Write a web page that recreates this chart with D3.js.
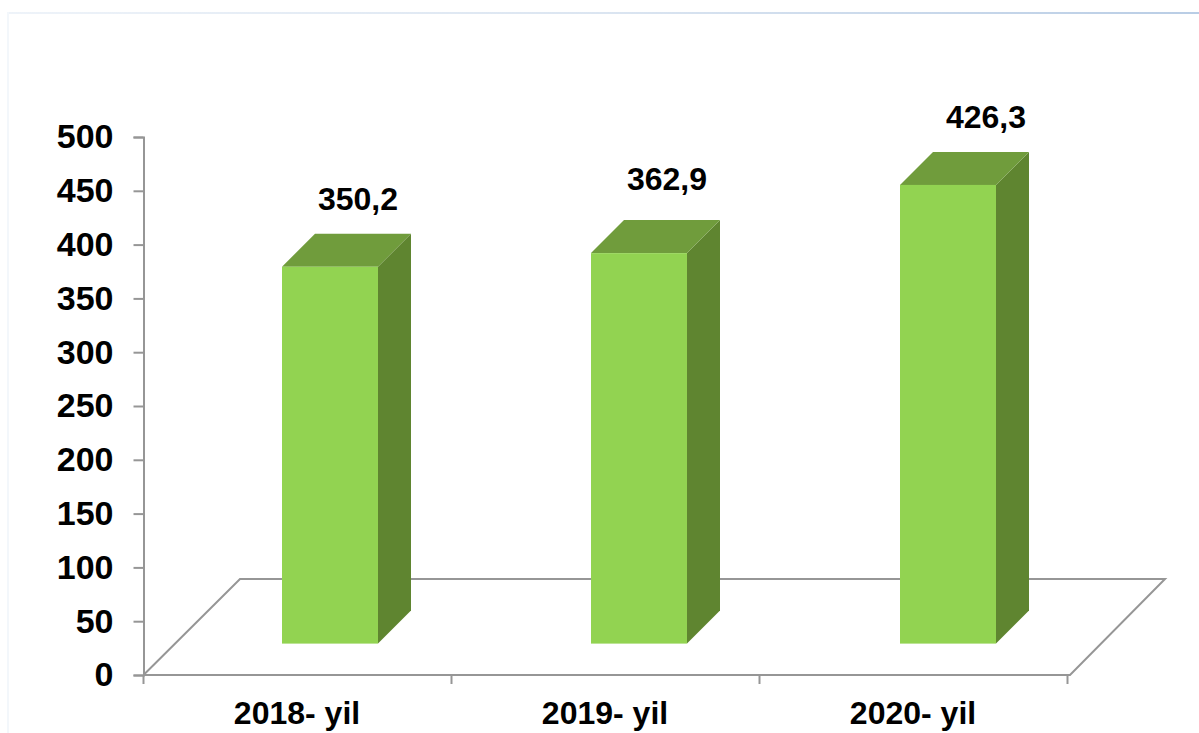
<!DOCTYPE html>
<html><head><meta charset="utf-8">
<script src="https://cdnjs.cloudflare.com/ajax/libs/d3/7.8.5/d3.min.js"></script>
<style>html,body{margin:0;padding:0;background:#fff;overflow:hidden}svg{display:block}text{font-family:"Liberation Sans",Arial,sans-serif;font-weight:700;fill:#000}</style>
</head><body><svg id="c" width="1199" height="733"></svg>
<script>
const categories=["2018- yil","2019- yil","2020- yil"];
const values=[350.2,362.9,426.3];
const valueLabels=["350,2","362,9","426,3"];
const yTicks=[0,50,100,150,200,250,300,350,400,450,500];
const W=1199,H=733;
const svg=d3.select("#c");
const y=d3.scaleLinear().domain([0,500]).range([675,137]);
const x=d3.scaleBand().domain(categories).range([143.5,1067.5]);
const xBar=d3.scaleBand().domain(categories).range([143.5,1070.5]);
const barW=96,barDepth=33;
const baseY=643.6,frontLeft=d=>xBar(d)+138.5;
const barTop=v=>y(v)-(675-baseY);
const labelShift=[[76,-57],[76,-63],[86,-57]];
const defs=svg.append("defs");
const g=defs.append("linearGradient").attr("id","top").attr("x1",0).attr("x2",1).attr("y1",0).attr("y2",0);
g.append("stop").attr("offset",0).attr("stop-color","#eef3f9");
g.append("stop").attr("offset",.5).attr("stop-color","#dbe5f1");
g.append("stop").attr("offset",1).attr("stop-color","#b9cde5");
svg.append("rect").attr("x",7).attr("y",12).attr("width",W-7).attr("height",2).attr("fill","url(#top)");
svg.append("rect").attr("x",7).attr("y",12).attr("width",2).attr("height",H-12).attr("fill","#f3f7fb");
const grey="#969696";
const line=d3.line();
svg.append("path").attr("d",line([[143.5,675],[240,579],[1165,579],[1070,675],[143.5,675]])).attr("fill","none").attr("stroke",grey).attr("stroke-width",2);
const axY=d3.axisLeft(y).tickValues(yTicks).tickSize(10).tickPadding(20);
const ay=svg.append("g").attr("transform","translate(143.5,0)").call(axY);
ay.selectAll("path,line").attr("stroke",grey).attr("stroke-width",2);
ay.selectAll("text").style("font-size","34px").style("font-family",'"Liberation Sans"').style("font-weight",700).attr("fill","#000");
const xEdges=[...categories.map(c=>x(c)),x.range()[1]];
svg.append("g").selectAll("line").data(xEdges).join("line").attr("x1",d=>d).attr("x2",d=>d).attr("y1",675).attr("y2",684).attr("stroke",grey).attr("stroke-width",2);
svg.append("g").selectAll("text").data(categories).join("text").attr("x",d=>x(d)+x.bandwidth()/2-.5).attr("y",724).attr("text-anchor","middle").style("font-size","32px").text(d=>d);
const bars=svg.append("g").selectAll("g").data(categories).join("g");
bars.append("path").attr("fill","#5f8530").attr("d",(d,i)=>{const l=frontLeft(d)+barW,t=barTop(values[i]);return line([[l,t],[l+barDepth,t-barDepth],[l+barDepth,baseY-barDepth],[l,baseY]])+"Z";});
bars.append("path").attr("fill","#709c3c").attr("d",(d,i)=>{const l=frontLeft(d),t=barTop(values[i]);return line([[l,t],[l+barDepth,t-barDepth],[l+barW+barDepth,t-barDepth],[l+barW,t]])+"Z";});
bars.append("rect").attr("fill","#92d351").attr("x",d=>frontLeft(d)).attr("width",barW).attr("y",(d,i)=>barTop(values[i])).attr("height",(d,i)=>baseY-barTop(values[i]));
bars.append("text").attr("x",(d,i)=>frontLeft(d)+labelShift[i][0]).attr("y",(d,i)=>barTop(values[i])+labelShift[i][1]).attr("text-anchor","middle").style("font-size","32px").text((d,i)=>valueLabels[i]);
</script></body></html>
